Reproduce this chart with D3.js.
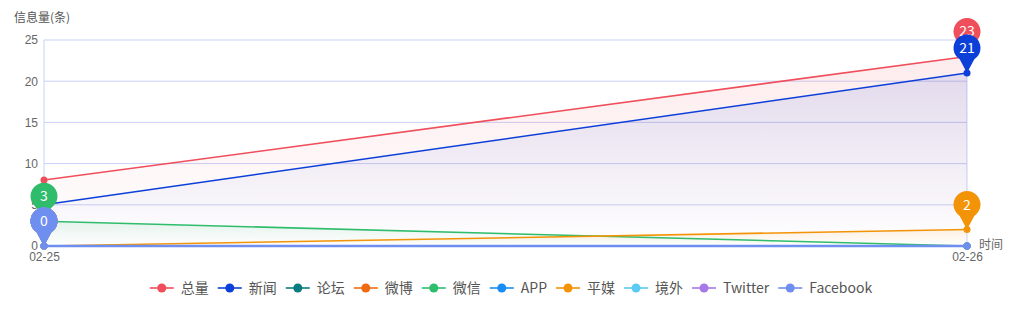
<!DOCTYPE html>
<html>
<head>
<meta charset="utf-8">
<script src="https://cdn.jsdelivr.net/npm/d3@7"></script>
<style>
  body { margin: 0; background: #fff; }
  svg { font-family: "Microsoft YaHei", "Noto Sans CJK SC", sans-serif; }
</style>
</head>
<body>
<div id="chart"></div>
<script>
// data
var dates = ["02-25", "02-26"];
var seriesNames = ["总量", "新闻", "论坛", "微博", "微信", "APP", "平媒", "境外", "Twitter", "Facebook"];
var seriesColors = ["#ef4e5b", "#0c3fd8", "#0b7b80", "#ef6a12", "#2fbd6c", "#1a8cf5", "#f39408", "#5bcaf3", "#a779e6", "#6f8ff0"];
var seriesValues = [
  [8, 23],
  [5, 21],
  [0, 0],
  [0, 0],
  [3, 0],
  [0, 0],
  [0, 2],
  [0, 0],
  [0, 0],
  [0, 0]
];
var yTicks = [0, 5, 10, 15, 20, 25];

var W = 1024, H = 325;
var margin = {top: 40, right: 57, bottom: 79, left: 44},
    width = W - margin.left - margin.right,
    height = H - margin.top - margin.bottom;

var svg = d3.select("#chart")
  .append("svg")
    .attr("width", W)
    .attr("height", H);

var defs = svg.append("defs");

var g = svg.append("g")
    .attr("transform", "translate(" + margin.left + "," + margin.top + ")");

var x = d3.scalePoint()
  .domain(dates)
  .range([0, width]);

var y = d3.scaleLinear()
  .domain([0, 25])
  .range([height, 0]);

// grid
g.selectAll(".hgrid")
  .data(yTicks)
  .enter()
  .append("line")
    .attr("x1", 0)
    .attr("x2", width)
    .attr("y1", function(d) { return y(d); })
    .attr("y2", function(d) { return y(d); })
    .attr("stroke", "#c9d1f6")
    .attr("stroke-width", 1);

g.selectAll(".vgrid")
  .data(dates)
  .enter()
  .append("line")
    .attr("x1", function(d) { return x(d); })
    .attr("x2", function(d) { return x(d); })
    .attr("y1", 0)
    .attr("y2", height)
    .attr("stroke", "#c9d1f6")
    .attr("stroke-width", 1);

// Y axis
var yAxis = g.append("g")
  .call(d3.axisLeft(y).tickValues(yTicks).tickSize(0).tickPadding(6));
yAxis.select(".domain").remove();
yAxis.selectAll("text")
  .attr("fill", "#666")
  .style("font-size", "12px");

// X axis
var xAxis = g.append("g")
  .attr("transform", "translate(0," + height + ")")
  .call(d3.axisBottom(x).tickSize(0).tickPadding(6));
xAxis.select(".domain").remove();
xAxis.selectAll("text")
  .attr("fill", "#666")
  .style("font-size", "12px");

svg.append("text")
  .attr("x", 14)
  .attr("y", 22)
  .attr("fill", "#555")
  .style("font-size", "12px")
  .text("信息量(条)");

svg.append("text")
  .attr("x", margin.left + width + 12)
  .attr("y", margin.top + height + 3)
  .attr("fill", "#666")
  .style("font-size", "12px")
  .text("时间");

// areas
var area = d3.area()
  .x(function(d, i) { return x(dates[i]); })
  .y0(height)
  .y1(function(d) { return y(d); });

var line = d3.line()
  .x(function(d, i) { return x(dates[i]); })
  .y(function(d) { return y(d); });

seriesValues.forEach(function(vals, s) {
  var grad = defs.append("linearGradient")
    .attr("id", "grad" + s)
    .attr("x1", 0).attr("y1", 0).attr("x2", 0).attr("y2", 1);
  grad.append("stop").attr("offset", "0%").attr("stop-color", seriesColors[s]).attr("stop-opacity", 0.11);
  grad.append("stop").attr("offset", "100%").attr("stop-color", seriesColors[s]).attr("stop-opacity", 0);
  if (d3.max(vals) > 0) {
    g.append("path")
      .datum(vals)
      .attr("d", area)
      .attr("fill", "url(#grad" + s + ")");
  }
});

// lines and dots
seriesValues.forEach(function(vals, s) {
  g.append("path")
    .datum(vals)
    .attr("d", line)
    .attr("fill", "none")
    .attr("stroke", seriesColors[s])
    .attr("stroke-width", s == seriesValues.length - 1 ? 2.5 : 1.6);
  g.selectAll(".dot" + s)
    .data(vals)
    .enter()
    .append("circle")
      .attr("cx", function(d, i) { return x(dates[i]); })
      .attr("cy", function(d) { return y(d); })
      .attr("r", 3.5)
      .attr("fill", seriesColors[s]);
});

// max mark pins
var pinR = 13.5, pinH = 25;
function pinPath(r, h) {
  // circle centered at (0,-h), tip at (0,0)
  var a = Math.asin(r / h) ;
  var ang = Math.PI / 2 - a;
  var sx = r * Math.cos(ang) , sy = -h + r * Math.sin(ang);
  return "M0,0 L" + (-sx) + "," + sy +
    " A" + r + "," + r + " 0 1 1 " + sx + "," + sy + " Z";
}
seriesValues.forEach(function(vals, s) {
  var mx = d3.max(vals);
  var idx = vals.indexOf(mx);
  var pg = g.append("g")
    .attr("transform", "translate(" + x(dates[idx]) + "," + y(mx) + ")");
  pg.append("path")
    .attr("d", pinPath(pinR, pinH))
    .attr("fill", seriesColors[s]);
  pg.append("text")
    .attr("x", 0)
    .attr("y", -pinH + 5)
    .attr("text-anchor", "middle")
    .attr("fill", "#fff")
    .style("font-size", "14px")
    .text(mx);
});

// legend
var legend = svg.append("g").attr("transform", "translate(0,288)");
var lx = 0;
seriesNames.forEach(function(name, s) {
  var it = legend.append("g");
  it.append("line")
    .attr("x1", 0).attr("x2", 24).attr("y1", 0).attr("y2", 0)
    .attr("stroke", seriesColors[s]).attr("stroke-width", 1.6);
  it.append("circle")
    .attr("cx", 12).attr("cy", 0).attr("r", 4.5)
    .attr("fill", seriesColors[s]);
  var t = it.append("text")
    .attr("x", 31)
    .attr("y", 5)
    .attr("fill", "#555")
    .style("font-size", "14px")
    .text(name);
  var tw = t.node().getComputedTextLength();
  it.attr("transform", "translate(" + lx + ",0)");
  lx += 31 + tw + 9;
});
lx -= 9;
legend.attr("transform", "translate(" + (511 - lx / 2) + ",288)");
</script>
</body>
</html>
